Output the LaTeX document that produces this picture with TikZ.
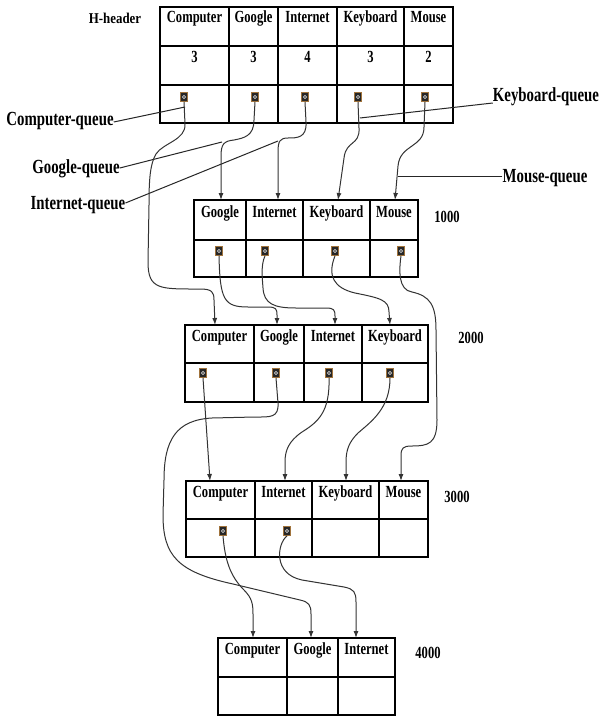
\documentclass[tikz,border=0pt]{standalone}
\usepackage{fontspec}
\setmainfont{Liberation Serif}
\newfontfamily\nf[FakeStretch=0.74]{Liberation Serif}
\newfontfamily\hf[FakeStretch=0.86]{Liberation Serif}
\usetikzlibrary{arrows.meta}
\tikzset{
  tbl/.style={draw=black, line width=1.2pt, rectangle, inner sep=0pt},
  gline/.style={draw=black, line width=1.2pt},
  hd/.style={font=\nf\bfseries\fontsize{17}{20}\selectfont, anchor=base, inner sep=0pt},
  lab/.style={font=\nf\bfseries\fontsize{20}{24}\selectfont, anchor=base, inner sep=0pt},
  hh/.style={font=\hf\bfseries\fontsize{15}{18}\selectfont, anchor=base, inner sep=0pt},
  ptr/.style={rectangle, inner sep=0pt, minimum width=7pt, minimum height=9pt,
    fill=black!85, draw={rgb,255:red,160;green,115;blue,60}, line width=0.8pt,
    path picture={\draw[gray!40, line width=0.6pt] (path picture bounding box.center) circle (1.6pt);}},
  conn/.style={line width=1pt, draw=black!80, -{Latex[length=7pt,width=5pt]}},
  lead/.style={line width=1pt, draw=black!85},
}
\begin{document}
\begin{tikzpicture}[x=1pt, y=-1pt]
\useasboundingbox (0,0) rectangle (601,717);
\fill[white] (0,0) rectangle (601,717);

% ---------- H-header table ----------
\node[tbl, minimum width=293pt, minimum height=116pt] (T0) at (306.5,65) {};
\draw[gline] (160,46) -- (453,46) (160,85) -- (453,85);
\draw[gline] (229,7) -- (229,123) (278,7) -- (278,123) (337,7) -- (337,123) (404,7) -- (404,123);
\node[hh] (hhead) at (115,24) {H-header};
\node[hd] (h0c) at (194.5,23) {Computer};
\node[hd] (h0g) at (253.5,23) {Google};
\node[hd] (h0i) at (307.5,23) {Internet};
\node[hd] (h0k) at (370.5,23) {Keyboard};
\node[hd] (h0m) at (428.5,23) {Mouse};
\node[hd] (n0c) at (194.5,63) {3};
\node[hd] (n0g) at (253.5,63) {3};
\node[hd] (n0i) at (307.5,63) {4};
\node[hd] (n0k) at (370.5,63) {3};
\node[hd] (n0m) at (428.5,63) {2};
\node[ptr] (p0c) at (184,97) {};
\node[ptr] (p0g) at (255,97) {};
\node[ptr] (p0i) at (305,97) {};
\node[ptr] (p0k) at (358,97) {};
\node[ptr] (p0m) at (425,97) {};

% ---------- 1000 ----------
\node[tbl, minimum width=224pt, minimum height=77pt] (T1) at (306,238.5) {};
\draw[gline] (194,240) -- (418,240);
\draw[gline] (246,200) -- (246,277) (303,200) -- (303,277) (370,200) -- (370,277);
\node[hd] (h1g) at (220,217) {Google};
\node[hd] (h1i) at (274.5,217) {Internet};
\node[hd] (h1k) at (336.5,217) {Keyboard};
\node[hd] (h1m) at (394,217) {Mouse};
\node[hd] (l1) at (447,222) {1000};
\node[ptr] (p1g) at (219,251) {};
\node[ptr] (p1i) at (265,251) {};
\node[ptr] (p1k) at (335,251) {};
\node[ptr] (p1m) at (401,251) {};
\coordinate (i1g) at (221,200);
\coordinate (i1i) at (278,200);
\coordinate (i1k) at (338,200);
\coordinate (i1m) at (395,200);

% ---------- 2000 ----------
\node[tbl, minimum width=243pt, minimum height=77pt] (T2) at (306.5,363.5) {};
\draw[gline] (185,363) -- (428,363);
\draw[gline] (254,325) -- (254,402) (304,325) -- (304,402) (362,325) -- (362,402);
\node[hd] (h2c) at (219.5,341) {Computer};
\node[hd] (h2g) at (279,341) {Google};
\node[hd] (h2i) at (333,341) {Internet};
\node[hd] (h2k) at (395,341) {Keyboard};
\node[hd] (l2) at (471,343) {2000};
\node[ptr] (p2c) at (203,373) {};
\node[ptr] (p2g) at (276,373) {};
\node[ptr] (p2i) at (329,373) {};
\node[ptr] (p2k) at (390,373) {};
\coordinate (i2c) at (215,325);
\coordinate (i2g) at (277,325);
\coordinate (i2i) at (335,325);
\coordinate (i2k) at (390,325);

% ---------- 3000 ----------
\node[tbl, minimum width=242pt, minimum height=76pt] (T3) at (307,519) {};
\draw[gline] (186,519) -- (428,519);
\draw[gline] (255,481) -- (255,557) (312,481) -- (312,557) (379,481) -- (379,557);
\node[hd] (h3c) at (220.5,497) {Computer};
\node[hd] (h3i) at (283.5,497) {Internet};
\node[hd] (h3k) at (345.5,497) {Keyboard};
\node[hd] (h3m) at (403.5,497) {Mouse};
\node[hd] (l3) at (457,502) {3000};
\node[ptr] (p3c) at (223,531) {};
\node[ptr] (p3i) at (287,531) {};
\coordinate (i3c) at (210,481);
\coordinate (i3i) at (285,481);
\coordinate (i3k) at (346,481);
\coordinate (i3m) at (401,481);

% ---------- 4000 ----------
\node[tbl, minimum width=177pt, minimum height=77pt] (T4) at (306.5,676.5) {};
\draw[gline] (218,677) -- (395,677);
\draw[gline] (287,638) -- (287,715) (338,638) -- (338,715);
\node[hd] (h4c) at (252.5,654) {Computer};
\node[hd] (h4g) at (312.5,654) {Google};
\node[hd] (h4i) at (366.5,654) {Internet};
\node[hd] (l4) at (428,658) {4000};
\coordinate (i4c) at (253,638);
\coordinate (i4g) at (311,638);
\coordinate (i4i) at (356,638);

% ---------- queue labels ----------
\node[lab] (lcq) at (60,125) {Computer-queue};
\node[lab] (lgq) at (76,173) {Google-queue};
\node[lab] (liq) at (78,209) {Internet-queue};
\node[lab] (lkq) at (546,101) {Keyboard-queue};
\node[lab] (lmq) at (545,182) {Mouse-queue};
\coordinate (acq) at (185,107);
\coordinate (agq) at (222,142);
\coordinate (aiq) at (278,141);
\coordinate (akq) at (360,118);
\coordinate (amq) at (398,176);
\draw[lead] (lcq.east |- 0,122) -- (acq);
\draw[lead] (lgq.east |- 0,168) -- (agq);
\draw[lead] (liq.east |- 0,203) -- (aiq);
\draw[lead] (lkq.west |- 0,103) -- (akq);
\draw[lead] (lmq.west |- 0,176) -- (amq);

% ---------- connectors from H-header ----------
\draw[conn] (p0c.south) -- (185,124) .. controls (186,140) and (163,143) .. (156,154)
  .. controls (150,164) and (149,180) .. (149,205)
  -- (148,262) .. controls (148,290) and (160,289) .. (200,289)
  .. controls (212,289) and (214,292) .. (214,300) -- (i2c);
\draw[conn] (p0g.south) -- (254,120) .. controls (254,136) and (244,138) .. (234,140)
  .. controls (224,141) and (221,144) .. (221,156) -- (i1g);
\draw[conn] (p0i.south) -- (306,122) .. controls (307,138) and (297,138) .. (288,138)
  .. controls (280,138) and (278,141) .. (278,152) -- (i1i);
\draw[conn] (p0k.south) -- (359,128) .. controls (360,146) and (346,140) .. (344,158) -- (i1k);
\draw[conn] (p0m.south) -- (424,127) .. controls (424,148) and (400,144) .. (398,166) -- (i1m);

% ---------- connectors from 1000 ----------
\draw[conn] (p1g.south) .. controls (220,300) and (224,307) .. (248,307)
  -- (268,307) .. controls (276,307) and (277,309) .. (277,315) -- (i2g);
\draw[conn] (p1i.south) .. controls (261,265) and (262,275) .. (263,288)
  .. controls (264,304) and (274,308) .. (296,308) -- (326,308)
  .. controls (334,308) and (335,310) .. (335,316) -- (i2i);
\draw[conn] (p1k.south) .. controls (327,276) and (334,288) .. (355,293)
  .. controls (380,298) and (389,300) .. (389,312) -- (i2k);
\draw[conn] (p1m.south) .. controls (399,270) and (398,290) .. (412,292)
  .. controls (430,296) and (436,305) .. (436,330) -- (437,420)
  .. controls (437,444) and (428,446) .. (412,446) .. controls (403,446) and (401,448) .. (401,456) -- (i3m);

% ---------- connectors from 2000 ----------
\draw[conn] (p2c.south) -- (i3c);
\draw[conn] (p2g.south) -- (278,403) .. controls (279,418) and (270,417) .. (255,417)
  -- (212,418) .. controls (176,420) and (164,440) .. (164,480) -- (163,515)
  .. controls (163,556) and (178,572) .. (233,584) -- (300,600)
  .. controls (309,602) and (311,605) .. (311,614) -- (i4g);
\draw[conn] (p2i.south) .. controls (330,412) and (318,422) .. (302,432)
  .. controls (289,441) and (285,450) .. (285,462) -- (i3i);
\draw[conn] (p2k.south) .. controls (390,408) and (372,421) .. (358,433)
  .. controls (349,442) and (346,450) .. (346,462) -- (i3k);

% ---------- connectors from 3000 ----------
\draw[conn] (p3c.south) .. controls (225,560) and (230,576) .. (244,590)
  .. controls (252,598) and (253,604) .. (253,614) -- (i4c);
\draw[conn] (p3i.south) .. controls (277,544) and (273,574) .. (302,580)
  -- (344,587) .. controls (354,589) and (356,592) .. (356,602) -- (i4i);
\end{tikzpicture}
\end{document}
